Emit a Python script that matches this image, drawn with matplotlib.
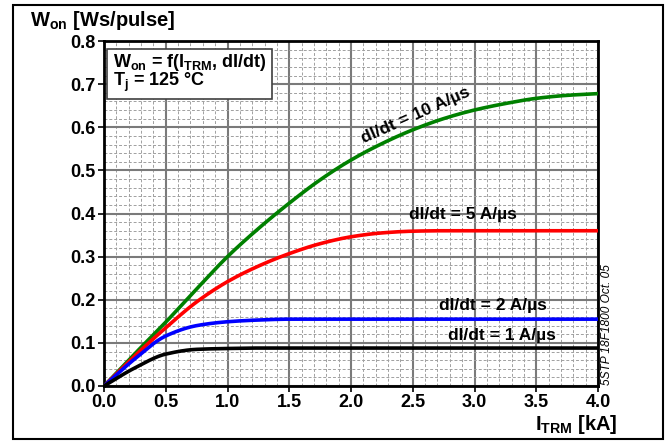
import matplotlib
matplotlib.use("Agg")
import matplotlib.pyplot as plt
import numpy as np
from matplotlib.patches import Rectangle
from matplotlib.ticker import MultipleLocator, FormatStrFormatter

plt.rcParams['font.family'] = ['Liberation Sans', 'DejaVu Sans']
plt.rcParams['font.weight'] = 'bold'
plt.rcParams['mathtext.fontset'] = 'custom'
plt.rcParams['mathtext.rm'] = 'Liberation Sans:bold'
plt.rcParams['mathtext.it'] = 'Liberation Sans:bold'
plt.rcParams['mathtext.bf'] = 'Liberation Sans:bold'

# turn-on energy curves, I_TRM in kA
i_trm = [0.0, 0.25, 0.5, 0.75, 1.0, 1.25, 1.5, 1.75, 2.0, 2.25, 2.5, 2.75, 3.0, 3.25, 3.5, 3.75, 4.0]
won_10 = [0.0, 0.075, 0.148, 0.225, 0.300, 0.365, 0.424, 0.478, 0.524, 0.562, 0.594, 0.620, 0.640, 0.655, 0.667, 0.674, 0.678]
won_5 = [0.0, 0.070, 0.135, 0.195, 0.242, 0.278, 0.307, 0.330, 0.346, 0.355, 0.359, 0.360, 0.360, 0.360, 0.360, 0.360, 0.360]
won_2 = [0.0, 0.063, 0.116, 0.140, 0.149, 0.153, 0.155, 0.155, 0.155, 0.155, 0.155, 0.155, 0.155, 0.155, 0.155, 0.155, 0.155]
won_1 = [0.0, 0.042, 0.074, 0.085, 0.087, 0.088, 0.088, 0.088, 0.088, 0.088, 0.088, 0.088, 0.088, 0.088, 0.088, 0.088, 0.088]

curves = [
    (won_10, 'green', 'dI/dt = 10 A/µs', 2.52, 0.627, 24),
    (won_5, 'red', 'dI/dt = 5 A/µs', 2.91, 0.397, 0),
    (won_2, 'blue', 'dI/dt = 2 A/µs', 3.15, 0.186, 0),
    (won_1, 'black', 'dI/dt = 1 A/µs', 3.22, 0.116, 0),
]


def pchip(x, y, xs):
    # monotone cubic through the read-off points
    x = np.asarray(x, float)
    y = np.asarray(y, float)
    h = np.diff(x)
    d = np.diff(y) / h
    m = np.zeros_like(y)
    for i in range(1, len(x) - 1):
        if d[i - 1] * d[i] > 0:
            w1 = 2 * h[i] + h[i - 1]
            w2 = h[i] + 2 * h[i - 1]
            m[i] = (w1 + w2) / (w1 / d[i - 1] + w2 / d[i])
    m[0] = d[0]
    m[-1] = d[-1]
    idx = np.clip(np.searchsorted(x, xs) - 1, 0, len(x) - 2)
    t = (xs - x[idx]) / h[idx]
    h00 = 2 * t**3 - 3 * t**2 + 1
    h10 = t**3 - 2 * t**2 + t
    h01 = -2 * t**3 + 3 * t**2
    h11 = t**3 - t**2
    return h00 * y[idx] + h10 * h[idx] * m[idx] + h01 * y[idx + 1] + h11 * h[idx] * m[idx + 1]


fig = plt.figure(figsize=(6.69, 4.41), dpi=100)
ax = fig.add_axes([104 / 669, 1 - 386 / 441, 494 / 669, 345 / 441])

xs = np.linspace(0, 4, 400)
for vals, col, lab, lx, ly, rot in curves:
    ax.plot(xs, pchip(i_trm, vals, xs), color=col, lw=2.6, zorder=3)
    ax.text(lx, ly, lab, fontsize=12.5, fontweight='bold', rotation=rot,
            ha='center', va='center', zorder=4)

ax.set_xlim(0, 4)
ax.set_ylim(0, 0.8)
ax.xaxis.set_major_locator(MultipleLocator(0.5))
ax.xaxis.set_minor_locator(MultipleLocator(0.1))
ax.yaxis.set_major_locator(MultipleLocator(0.1))
ax.yaxis.set_minor_locator(MultipleLocator(0.02))
ax.xaxis.set_major_formatter(FormatStrFormatter('%.1f'))
ax.yaxis.set_major_formatter(FormatStrFormatter('%.1f'))
ax.grid(which='major', color='#7a7a7a', lw=1.5, zorder=1)
ax.grid(which='minor', color='#a0a0a0', lw=0.7, ls=(0, (3, 2)), zorder=0)
ax.tick_params(which='major', direction='out', length=4, width=1.2, labelsize=13, pad=2)
ax.tick_params(which='minor', length=0)
for lbl in ax.get_xticklabels() + ax.get_yticklabels():
    lbl.set_fontweight('bold')
for sp in ax.spines.values():
    sp.set_linewidth(2)

ax.text(0.018, 0.968, 'W$_{\\mathrm{on}}$ = f(I$_{\\mathrm{TRM}}$, dI/dt)\nT$_{\\mathrm{j}}$ = 125 °C',
        transform=ax.transAxes, fontsize=13, fontweight='bold', ha='left', va='top',
        linespacing=0.85, zorder=5,
        bbox=dict(boxstyle='square,pad=0.3', fc='white', ec='#404040', lw=1.2))

fig.text(30 / 669, 1 - 21 / 441, 'W$_{\\mathrm{on}}$ [Ws/pulse]', fontsize=14.5,
         fontweight='bold', ha='left', va='center')
fig.text(617 / 669, 1 - 425 / 441, 'I$_{\\mathrm{TRM}}$ [kA]', fontsize=14.5,
         fontweight='bold', ha='right', va='center')
fig.text(607 / 669, 1 - 385 / 441, '5STP 18F1800 Oct. 05', fontsize=8.6,
         fontweight='normal', style='italic', rotation=90, ha='center', va='bottom')

fig.patches.append(Rectangle((13 / 669, 1 - 439 / 441), 650 / 669, 434 / 441,
                             transform=fig.transFigure, fill=False, ec='black', lw=1.5))

fig.savefig('out.png', dpi=100)
